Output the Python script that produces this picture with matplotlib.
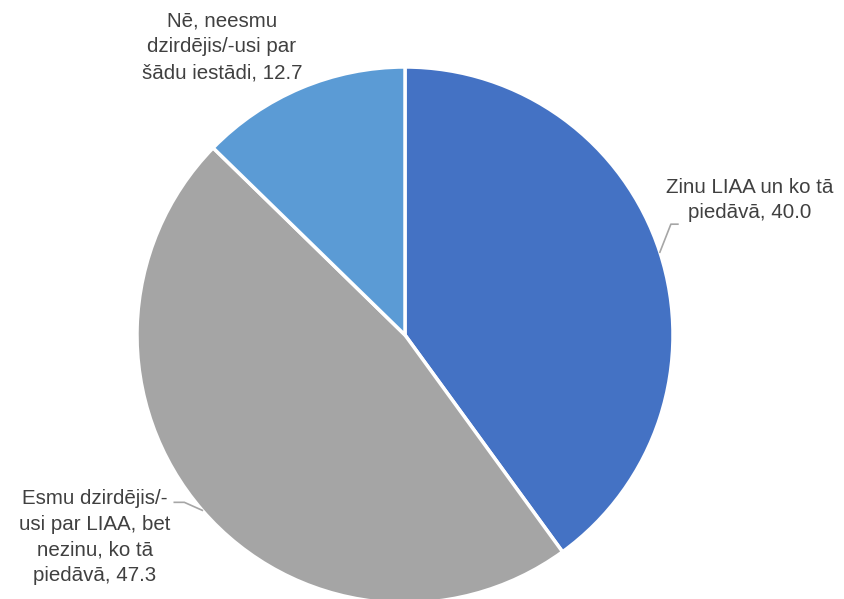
import numpy as np
import matplotlib
matplotlib.use("Agg")
import matplotlib.pyplot as plt

labels = ["Zinu LIAA un ko tā\npiedāvā",
          "Esmu dzirdējis/-\nusi par LIAA, bet\nnezinu, ko tā\npiedāvā",
          "Nē, neesmu\ndzirdējis/-usi par\nšādu iestādi"]
values = [40.0, 47.3, 12.7]
colors = ["#4472C4", "#A5A5A5", "#5B9BD5"]

W, H = 844, 599
fig = plt.figure(figsize=(W / 100, H / 100), dpi=100)
ax = fig.add_axes([0, 0, 1, 1])

cx, cy, r = 405, H - 335, 268
wedges, _ = ax.pie(values, colors=colors, startangle=90, counterclock=False,
                   center=(cx, cy), radius=r, frame=True,
                   wedgeprops=dict(edgecolor="white", linewidth=2.5))
ax.set_xlim(0, W)
ax.set_ylim(0, H)
ax.set_aspect("equal")
ax.axis("off")

txt = dict(fontsize=14.8, color="#404040", ha="center", va="center",
           family="Liberation Sans", linespacing=1.45)
# label centres (pixels from top-left) and leader elbows
label_pos = [(750, 200), (95, 537), (222, 47)]
elbows = [[(11, 28), (18, 28)], [(-18, 8), (-28, 8)], None]

for w, lab, v, (lx, ly), elb in zip(wedges, labels, values, label_pos, elbows):
    ax.text(lx, H - ly, f"{lab}, {v:.1f}", **txt)
    if elb is None:
        continue
    ang = np.deg2rad((w.theta1 + w.theta2) / 2)
    px, py = cx + r * np.cos(ang), cy + r * np.sin(ang)
    xs = [px] + [px + dx for dx, dy in elb]
    ys = [py] + [py + dy for dx, dy in elb]
    ax.plot(xs, ys, color="#A6A6A6", lw=1.2)

fig.savefig("out.png", dpi=100)
